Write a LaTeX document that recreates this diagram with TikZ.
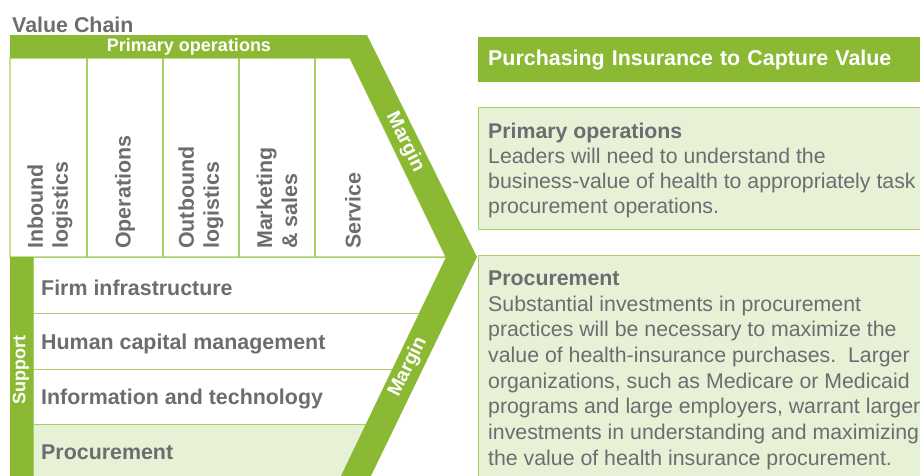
\documentclass[tikz,border=0pt]{standalone}
\usepackage{fontspec}
\setmainfont{Liberation Sans}
\usetikzlibrary{positioning, calc}
\definecolor{chaingreen}{RGB}{139, 185, 51}
\definecolor{gridgreen}{RGB}{168, 206, 104}
\definecolor{panelfill}{RGB}{231, 241, 214}
\definecolor{textgray}{RGB}{108, 109, 112}
\tikzset{
    % Text styles
    bigbold/.style={font=\bfseries\fontsize{21.4}{25}\selectfont},
    bodyfont/.style={font=\fontsize{21.3}{25}\selectfont},
    smallbold/.style={font=\bfseries\fontsize{18}{21}\selectfont},
    % Value chain parts
    chainband/.style={fill=chaingreen, draw=none},
    gridline/.style={draw=gridgreen, line width=1.2pt},
    rowbox/.style={gridline, fill=white, anchor=north west, inner sep=0pt, minimum height=56pt},
    collabel/.style={bigbold, text=textgray, rotate=90, anchor=west, align=left, inner sep=0pt},
    rowlabel/.style={bigbold, text=textgray, anchor=west, inner sep=0pt},
    bandlabel/.style={smallbold, text=white, inner sep=0pt},
    marginlabel/.style={font=\bfseries\fontsize{19.5}{22}\selectfont, text=white, inner sep=0pt},
    % Right hand panels
    headbar/.style={
        fill=chaingreen, anchor=north west,
        minimum width=450pt, minimum height=45pt,
        text width=430pt, inner xsep=10pt, align=left,
        bigbold, text=white
    },
    panelbox/.style={draw=gridgreen, line width=1.2pt, fill=panelfill, anchor=north west, minimum width=450pt, inner sep=0pt},
    paneltext/.style={bodyfont, text=textgray, anchor=north west, align=left, inner sep=0pt},
}

\begin{document}
\begin{tikzpicture}[x=1pt, y=-1pt]
\useasboundingbox (0,0) rectangle (920,475);
\clip (0,0) rectangle (920,475);

% Title
\node (title) [bigbold, text=textgray, anchor=base west, inner sep=0pt] at (12,32) {Value Chain};

% Primary activities grid
\draw[gridline, fill=white] (10,58) -- (350,58) -- (446,257) -- (10,257) -- cycle;
\foreach \x in {87,163,239,315}
    \draw[gridline] (\x,58) -- (\x,257);

\node (inbound) [collabel] at (50,249) {Inbound\\logistics};
\node (ops) [collabel] at (125,249) {Operations};
\node (outbound) [collabel] at (201,249) {Outbound\\logistics};
\node (marketing) [collabel] at (277,249) {Marketing\\\& sales};
\node (service) [collabel] at (353,249) {Service};

% Support activities rows
\node (firm) [rowbox, minimum width=415pt] at (33,257) {};
\node (human) [rowbox, minimum width=388pt] at (33,313) {};
\node (info) [rowbox, minimum width=361pt] at (33,369) {};
\node (procure) [rowbox, fill=panelfill, minimum width=335pt, minimum height=60pt] at (33,424) {};

\node (firmlabel) [rowlabel] at ([xshift=8pt,yshift=-2pt]firm.west) {Firm infrastructure};
\node (humanlabel) [rowlabel] at ([xshift=8pt,yshift=-2pt]human.west) {Human capital management};
\node (infolabel) [rowlabel] at ([xshift=8pt,yshift=-1pt]info.west) {Information and technology};
\node (procurelabel) [rowlabel] at ([xshift=8pt,yshift=2pt]procure.west) {Procurement};

% Green frame with margin chevron
\fill[chainband] (10,35) -- (367,35) -- (477,257) -- (369,480) -- (339,480)
    -- (446,257) -- (350,58) -- (10,58) -- cycle;
\fill[chainband] (10,257) rectangle (33,480);

\node (primlabel) [bandlabel] at (189,47) {Primary operations};
\node (margintop) [marginlabel, rotate=-63.6] at (405,142) {Margin};
\node (marginlow) [marginlabel, rotate=63.6] at (408,367) {Margin};
\node (support) [bandlabel, rotate=90] at (21,370) {Support};

% Right hand side
\node (header) [headbar] at (478,37) {Purchasing Insurance to Capture Value};

\node (primpanel) [panelbox, minimum height=122pt] at (478,107) {};
\node (primtext) [paneltext] at (488,122.5) {\textbf{Primary operations}\\
    Leaders will need to understand the\\
    business-value of health to appropriately task\\
    procurement operations.};

\node (procpanel) [panelbox, minimum height=240pt] at (478,255) {};
\node (proctext) [paneltext, font=\fontsize{21.3}{25.7}\selectfont] at (488,270.5) {\textbf{Procurement}\\
    Substantial investments in procurement\\
    practices will be necessary to maximize the\\
    value of health-insurance purchases.\ \ Larger\\
    organizations, such as Medicare or Medicaid\\
    programs and large employers, warrant larger\\
    investments in understanding and maximizing\\
    the value of health insurance procurement.};

\end{tikzpicture}
\end{document}
